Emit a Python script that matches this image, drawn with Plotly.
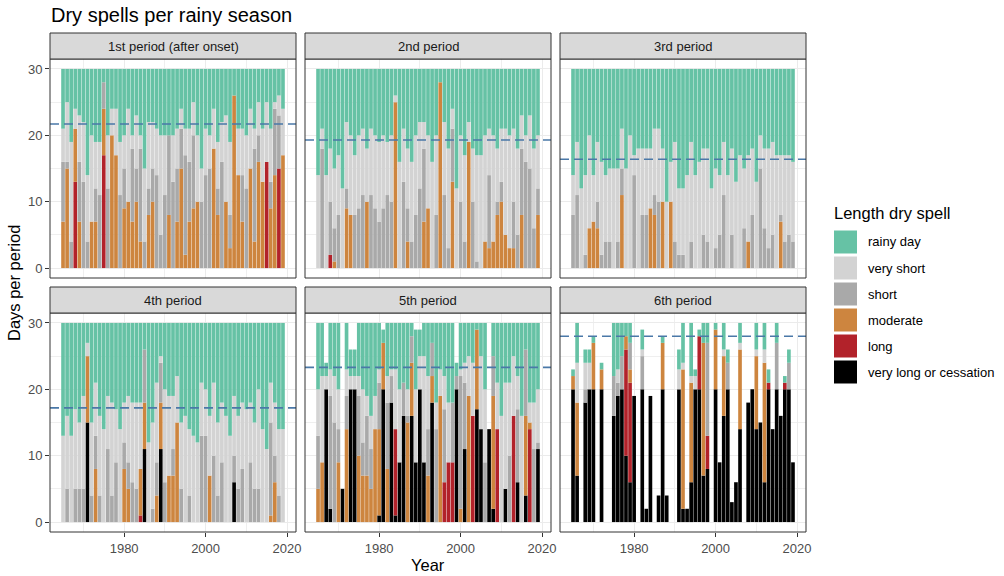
import plotly.graph_objects as go

# ---------------------------------------------------------------- data
years = list(range(1965, 2020))

period_titles = ["1st period (after onset)", "2nd period", "3rd period",
                 "4th period", "5th period", "6th period"]

legend_labels = ["rainy day", "very short", "short", "moderate", "long",
                 "very long or cessation"]

# mean number of dry days per period (dashed reference line)
period_means = [21.7, 19.3, 16.4, 17.2, 23.3, 28.0]

y_ticks = [0, 10, 20, 30]
x_ticks = [1980, 2000, 2020]

# ---- 1st period (after onset)
p1_long = [0, 0, 0, 13, 0, 0, 0, 0, 0, 0,
           17, 0, 0, 0, 0, 0, 0, 0, 0, 0,
           0, 0, 0, 0, 0, 0, 0, 0, 0, 0,
           0, 0, 0, 0, 0, 0, 0, 0, 0, 0,
           0, 0, 0, 0, 0, 0, 0, 0, 0, 0,
           16, 0, 0, 15, 0]
p1_moderate = [7, 15, 0, 8, 7, 0, 0, 7, 7, 0,
               7, 0, 20, 17, 0, 9, 10, 7, 10, 4,
               0, 8, 10, 0, 0, 0, 8, 0, 7, 15,
               2, 7, 9, 10, 0, 0, 0, 18, 8, 0,
               10, 3, 26, 14, 7, 0, 15, 4, 16, 13,
               0, 9, 14, 0, 17]
p1_short = [9, 1, 4, 0, 9, 13, 4, 0, 5, 11,
            4, 12, 0, 0, 11, 6, 0, 11, 5, 14,
            4, 4, 5, 14, 5, 11, 12, 13, 8, 6,
            15, 9, 11, 0, 10, 14, 15, 0, 4, 16,
            0, 5, 0, 0, 7, 12, 0, 14, 4, 0,
            0, 4, 10, 8, 0]
p1_very_short = [5, 9, 15, 3, 7, 9, 10, 13, 7, 8,
                 0, 8, 4, 7, 8, 5, 14, 2, 8, 2,
                 11, 10, 7, 7, 15, 9, 0, 7, 6, 3,
                 4, 5, 5, 10, 5, 7, 5, 6, 7, 6,
                 13, 11, 0, 7, 7, 8, 9, 3, 5, 8,
                 9, 8, 1, 3, 7]
p1_rainy = [9, 5, 11, 6, 7, 8, 16, 10, 11, 11,
            2, 10, 6, 6, 11, 10, 6, 10, 7, 10,
            15, 8, 8, 9, 10, 10, 10, 10, 9, 6,
            9, 9, 5, 10, 15, 9, 10, 6, 11, 8,
            7, 11, 4, 9, 9, 10, 6, 9, 5, 9,
            5, 9, 5, 4, 6]

# ---- 2nd period
p2_long = [0, 0, 0, 2, 0, 0, 0, 0, 0, 0,
           0, 0, 0, 0, 0, 0, 0, 0, 0, 0,
           0, 0, 0, 0, 0, 0, 0, 0, 0, 0,
           0, 0, 0, 0, 0, 0, 0, 0, 0, 0,
           0, 0, 0, 0, 0, 0, 0, 0, 0, 0,
           0, 0, 0, 0, 0]
p2_moderate = [0, 0, 0, 0, 1, 0, 0, 9, 8, 0,
               0, 0, 10, 0, 0, 0, 0, 0, 0, 25,
               0, 0, 4, 0, 0, 0, 7, 9, 0, 0,
               28, 0, 0, 13, 0, 0, 0, 19, 0, 0,
               0, 4, 3, 4, 8, 10, 5, 3, 3, 0,
               8, 0, 0, 0, 8]
p2_short = [0, 18, 0, 8, 5, 8, 0, 3, 0, 8,
            9, 11, 0, 11, 9, 7, 9, 11, 10, 0,
            0, 13, 5, 4, 8, 12, 11, 0, 0, 8,
            0, 11, 3, 8, 0, 10, 4, 0, 10, 1,
            0, 0, 11, 0, 2, 3, 0, 0, 7, 5,
            10, 16, 15, 6, 4]
p2_very_short = [14, 3, 14, 8, 9, 9, 12, 10, 12, 9,
                 11, 10, 8, 10, 11, 12, 11, 8, 10, 1,
                 16, 8, 9, 12, 12, 10, 4, 11, 16, 12,
                 0, 11, 15, 3, 12, 10, 13, 3, 8, 16,
                 17, 16, 7, 16, 8, 8, 16, 17, 11, 13,
                 5, 4, 8, 12, 8]
p2_rainy = [16, 9, 16, 12, 15, 13, 18, 8, 10, 13,
            10, 9, 12, 9, 10, 11, 10, 11, 10, 4,
            14, 9, 12, 14, 10, 8, 8, 10, 14, 10,
            2, 8, 12, 6, 18, 10, 13, 8, 12, 13,
            13, 10, 9, 10, 12, 9, 9, 10, 9, 12,
            7, 10, 7, 12, 10]

# ---- 3rd period
p3_moderate = [0, 0, 0, 0, 6, 7, 6, 0, 0, 0,
               0, 0, 11, 0, 0, 0, 0, 0, 0, 9,
               8, 0, 10, 0, 10, 0, 0, 0, 0, 0,
               0, 0, 0, 0, 0, 0, 0, 0, 0, 0,
               0, 0, 0, 4, 0, 0, 0, 0, 0, 0,
               0, 7, 0, 0, 0]
p3_short = [8, 11, 0, 2, 0, 0, 4, 2, 4, 4,
            0, 4, 4, 0, 0, 14, 0, 8, 8, 0,
            3, 10, 0, 0, 0, 4, 2, 2, 0, 4,
            0, 0, 5, 4, 0, 3, 5, 11, 0, 5,
            0, 0, 6, 0, 8, 0, 15, 6, 3, 5,
            0, 1, 4, 5, 4]
p3_very_short = [6, 8, 12, 12, 14, 7, 9, 14, 10, 11,
                 15, 11, 6, 15, 20, 3, 18, 10, 10, 9,
                 10, 11, 8, 10, 6, 15, 10, 10, 14, 15,
                 14, 16, 13, 14, 12, 12, 9, 8, 14, 13,
                 13, 17, 9, 13, 10, 13, 5, 12, 15, 14,
                 17, 9, 13, 12, 12]
p3_rainy = [16, 11, 18, 16, 10, 16, 11, 14, 16, 15,
            15, 15, 9, 15, 10, 13, 12, 12, 12, 12,
            9, 9, 12, 20, 14, 11, 18, 18, 16, 11,
            16, 14, 12, 12, 18, 15, 16, 11, 16, 12,
            17, 13, 15, 13, 12, 17, 10, 12, 12, 11,
            13, 13, 13, 13, 14]

# ---- 4th period
p4_very_long = [0, 0, 0, 0, 0, 0, 15, 0, 0, 0,
                0, 0, 0, 0, 0, 0, 0, 0, 0, 0,
                11, 0, 0, 0, 11, 0, 0, 0, 0, 0,
                0, 0, 0, 0, 0, 0, 0, 0, 0, 0,
                0, 0, 6, 0, 0, 0, 0, 0, 0, 0,
                0, 0, 0, 0, 0]
p4_long = [0, 0, 0, 0, 0, 0, 0, 0, 0, 0,
           0, 0, 0, 0, 0, 0, 0, 0, 0, 1,
           0, 0, 0, 0, 0, 0, 0, 0, 0, 0,
           0, 0, 0, 0, 0, 0, 0, 0, 0, 0,
           0, 0, 0, 0, 0, 0, 0, 0, 0, 0,
           0, 0, 0, 0, 0]
p4_moderate = [0, 0, 0, 0, 0, 0, 10, 0, 8, 0,
               0, 0, 0, 0, 0, 8, 5, 0, 0, 7,
               7, 0, 0, 4, 7, 0, 7, 7, 15, 0,
               0, 0, 0, 0, 0, 0, 7, 0, 0, 0,
               0, 0, 0, 0, 0, 0, 0, 0, 0, 0,
               0, 1, 6, 0, 0]
p4_short = [0, 5, 0, 5, 5, 5, 0, 4, 5, 4,
            0, 11, 4, 9, 0, 4, 4, 6, 5, 0,
            8, 0, 2, 5, 6, 6, 0, 4, 0, 5,
            0, 4, 0, 0, 13, 13, 0, 10, 4, 9,
            0, 0, 4, 5, 8, 0, 9, 5, 5, 0,
            0, 14, 4, 4, 0]
p4_very_short = [13, 11, 13, 12, 10, 14, 2, 11, 8, 12,
                 14, 8, 14, 8, 14, 6, 10, 12, 13, 10,
                 0, 12, 13, 12, 1, 14, 12, 8, 7, 10,
                 16, 10, 13, 12, 8, 7, 9, 11, 11, 9,
                 16, 13, 9, 11, 10, 17, 9, 10, 15, 14,
                 11, 6, 8, 10, 14]
p4_rainy = [17, 14, 17, 13, 15, 11, 3, 15, 9, 14,
            16, 11, 12, 13, 16, 12, 11, 12, 12, 12,
            4, 18, 15, 9, 5, 10, 11, 11, 8, 15,
            14, 16, 17, 18, 9, 10, 14, 9, 15, 12,
            14, 17, 11, 14, 12, 13, 12, 15, 10, 16,
            19, 9, 12, 16, 16]

# ---- 5th period
p5_very_long = [0, 0, 20, 2, 0, 0, 5, 0, 20, 20,
                0, 0, 0, 0, 0, 1, 20, 0, 18, 1,
                9, 16, 0, 16, 9, 20, 9, 0, 18, 0,
                0, 0, 0, 0, 20, 0, 11, 0, 0, 17,
                14, 0, 14, 2, 0, 0, 5, 0, 0, 6,
                0, 4, 0, 0, 11]
p5_long = [0, 0, 0, 0, 0, 0, 0, 0, 0, 0,
           0, 0, 0, 0, 0, 0, 0, 0, 0, 13,
           0, 0, 0, 0, 0, 0, 0, 0, 0, 0,
           0, 6, 9, 9, 0, 0, 0, 0, 16, 0,
           0, 0, 0, 0, 14, 0, 0, 0, 16, 0,
           0, 0, 14, 0, 0]
p5_moderate = [5, 9, 0, 0, 0, 9, 0, 14, 0, 0,
               10, 7, 7, 5, 14, 13, 7, 8, 0, 0,
               0, 0, 15, 8, 0, 0, 0, 7, 4, 0,
               19, 0, 0, 0, 0, 2, 0, 19, 0, 12,
               0, 0, 0, 17, 0, 0, 0, 0, 0, 0,
               0, 12, 1, 0, 0]
p5_short = [8, 0, 0, 17, 15, 5, 0, 5, 0, 0,
            9, 5, 9, 6, 0, 7, 0, 10, 4, 0,
            0, 5, 1, 4, 0, 0, 0, 7, 5, 14,
            0, 11, 0, 9, 2, 20, 10, 0, 0, 0,
            0, 9, 0, 6, 0, 0, 0, 10, 0, 11,
            0, 10, 0, 11, 1]
p5_very_short = [7, 13, 2, 4, 7, 6, 0, 4, 2, 2,
                 3, 8, 3, 5, 5, 2, 0, 4, 1, 9,
                 11, 0, 4, 0, 11, 5, 16, 8, 0, 4,
                 4, 5, 9, 0, 0, 1, 3, 6, 8, 0,
                 11, 11, 0, 0, 7, 16, 16, 11, 9, 5,
                 16, 0, 3, 7, 8]
p5_rainy = [10, 8, 2, 7, 8, 10, 0, 7, 4, 4,
            8, 10, 11, 14, 11, 7, 2, 8, 7, 7,
            10, 9, 10, 2, 9, 4, 5, 8, 3, 12,
            7, 8, 12, 12, 2, 7, 6, 5, 6, 1,
            5, 10, 0, 5, 9, 14, 9, 9, 5, 8,
            14, 4, 12, 12, 10]

# ---- 6th period
p6_very_long = [20, 7, 0, 18, 20, 20, 0, 20, 0, 0,
                16, 19, 20, 10, 6, 19, 0, 20, 2, 19,
                0, 4, 20, 4, 0, 0, 20, 2, 2, 6,
                20, 20, 7, 8, 0, 20, 9, 16, 20, 3,
                6, 14, 0, 18, 20, 14, 15, 6, 20, 14,
                20, 16, 20, 20, 9]
p6_long = [0, 0, 0, 0, 0, 0, 0, 0, 0, 0,
           0, 0, 0, 16, 15, 0, 0, 0, 0, 0,
           0, 0, 0, 0, 0, 0, 0, 0, 0, 0,
           0, 8, 0, 5, 0, 0, 0, 0, 0, 0,
           0, 0, 0, 0, 0, 0, 0, 0, 1, 0,
           0, 0, 1, 0, 0]
p6_moderate = [2, 11, 0, 0, 0, 7, 0, 3, 0, 0,
               0, 0, 0, 2, 2, 0, 0, 0, 0, 0,
               0, 0, 7, 0, 0, 0, 0, 21, 0, 15,
               0, 0, 20, 0, 0, 9, 0, 9, 0, 0,
               0, 12, 0, 0, 0, 11, 0, 18, 0, 0,
               0, 0, 0, 0, 0]
p6_short = [0, 0, 0, 2, 0, 0, 0, 0, 0, 0,
            6, 2, 5, 0, 4, 0, 0, 5, 0, 0,
            0, 0, 0, 0, 0, 0, 0, 0, 0, 0,
            0, 0, 0, 14, 0, 0, 0, 0, 4, 0,
            0, 0, 0, 0, 0, 0, 0, 0, 0, 0,
            7, 0, 0, 4, 0]
p6_very_short = [0, 6, 0, 4, 4, 0, 0, 0, 0, 0,
                 0, 2, 0, 0, 0, 0, 0, 1, 0, 0,
                 0, 0, 0, 0, 0, 0, 3, 1, 0, 1,
                 2, 0, 0, 0, 0, 0, 0, 1, 0, 0,
                 0, 1, 0, 0, 0, 1, 0, 2, 0, 0,
                 0, 0, 0, 0, 0]
p6_rainy = [1, 6, 0, 2, 2, 1, 0, 1, 0, 0,
            8, 7, 5, 2, 3, 0, 0, 3, 0, 0,
            0, 0, 1, 0, 0, 0, 3, 6, 0, 8,
            1, 1, 3, 3, 0, 1, 0, 4, 2, 0,
            0, 3, 0, 0, 0, 4, 0, 4, 2, 0,
            3, 0, 1, 2, 0]

# series per facet (only the classes that occur in that period)
facets = [
    {"long": p1_long, "moderate": p1_moderate, "short": p1_short,
     "very short": p1_very_short, "rainy day": p1_rainy},
    {"long": p2_long, "moderate": p2_moderate, "short": p2_short,
     "very short": p2_very_short, "rainy day": p2_rainy},
    {"moderate": p3_moderate, "short": p3_short,
     "very short": p3_very_short, "rainy day": p3_rainy},
    {"very long or cessation": p4_very_long, "long": p4_long,
     "moderate": p4_moderate, "short": p4_short,
     "very short": p4_very_short, "rainy day": p4_rainy},
    {"very long or cessation": p5_very_long, "long": p5_long,
     "moderate": p5_moderate, "short": p5_short,
     "very short": p5_very_short, "rainy day": p5_rainy},
    {"very long or cessation": p6_very_long, "long": p6_long,
     "moderate": p6_moderate, "short": p6_short,
     "very short": p6_very_short, "rainy day": p6_rainy},
]

# ---------------------------------------------------------------- style
colors = {
    "rainy day": "#66C2A5",
    "very short": "#D3D3D3",
    "short": "#A9A9A9",
    "moderate": "#CD853F",
    "long": "#B2222A",
    "very long or cessation": "#000000",
}
stack_order = list(reversed(legend_labels))  # bottom to top

FONT = "Liberation Sans, Arial, sans-serif"
W, H = 1004, 576
col_px = [(50, 296), (305, 551), (560, 806)]
row_px = [(59, 278), (313, 532)]
STRIP_H = 26


def fx(px):
    return px / W


def fy(py):
    return 1 - py / H


fig = go.Figure()

shapes = []
annotations = []

for i, data in enumerate(facets):
    n = i + 1
    r, c = divmod(i, 3)
    xa = "x" if n == 1 else f"x{n}"
    ya = "y" if n == 1 else f"y{n}"
    for cat in stack_order:
        if cat not in data:
            continue
        fig.add_trace(go.Bar(
            x=years, y=data[cat], name=cat, width=0.9,
            marker=dict(color=colors[cat], line=dict(width=0)),
            xaxis=xa, yaxis=ya, showlegend=False,
            hovertemplate="%{x}: %{y} days<extra>" + cat + "</extra>",
        ))

    x0, x1 = col_px[c]
    y0, y1 = row_px[r]
    bottom = r == 1
    left = c == 0
    fig.update_layout(**{
        ("xaxis" if n == 1 else f"xaxis{n}"): dict(
            domain=[fx(x0), fx(x1)], anchor=ya, range=[1961.8, 2022.2],
            tickmode="array", tickvals=x_ticks,
            showticklabels=bottom, ticks="outside" if bottom else "",
            ticklen=4, tickwidth=1, tickcolor="#333333",
            tickfont=dict(family=FONT, size=13, color="#4D4D4D"),
            showgrid=True, gridcolor="#EBEBEB", gridwidth=1.1,
            minor=dict(tickvals=[1970, 1990, 2010], showgrid=True,
                       gridcolor="#EFEFEF", gridwidth=0.6),
            zeroline=False, showline=False, automargin=False, fixedrange=True,
        ),
        ("yaxis" if n == 1 else f"yaxis{n}"): dict(
            domain=[fy(y1), fy(y0)], anchor=xa, range=[-1.5, 31.5],
            tickmode="array", tickvals=y_ticks,
            showticklabels=left, ticks="outside" if left else "",
            ticklen=4, tickwidth=1, tickcolor="#333333",
            tickfont=dict(family=FONT, size=13, color="#4D4D4D"),
            showgrid=True, gridcolor="#EBEBEB", gridwidth=1.1,
            minor=dict(tickvals=[5, 15, 25], showgrid=True,
                       gridcolor="#EFEFEF", gridwidth=0.6),
            zeroline=False, showline=False, automargin=False, fixedrange=True,
        ),
    })

    # mean dry days line
    shapes.append(dict(type="line", xref=f"{xa} domain", yref=ya,
                       x0=0, x1=1, y0=period_means[i], y1=period_means[i],
                       line=dict(color="#4A78A8", width=1.6, dash="9px,5px"),
                       layer="above"))
    # panel border
    shapes.append(dict(type="rect", xref="paper", yref="paper",
                       x0=fx(x0), x1=fx(x1), y0=fy(y1), y1=fy(y0),
                       line=dict(color="#333333", width=1), layer="above"))
    # facet strip
    shapes.append(dict(type="rect", xref="paper", yref="paper",
                       x0=fx(x0), x1=fx(x1), y0=fy(y0), y1=fy(y0 - STRIP_H),
                       fillcolor="#D9D9D9",
                       line=dict(color="#333333", width=1), layer="above"))
    annotations.append(dict(text=period_titles[i], xref="paper", yref="paper",
                            x=fx((x0 + x1) / 2), y=fy(y0 - STRIP_H / 2),
                            xanchor="center", yanchor="middle", showarrow=False,
                            font=dict(family=FONT, size=13, color="#1A1A1A")))

# titles
annotations.append(dict(text="Dry spells per rainy season", xref="paper",
                        yref="paper", x=fx(49), y=fy(15), xanchor="left",
                        yanchor="middle", showarrow=False,
                        font=dict(family=FONT, size=20, color="#000000")))
annotations.append(dict(text="Year", xref="paper", yref="paper",
                        x=fx(428), y=fy(565), xanchor="center",
                        yanchor="middle", showarrow=False,
                        font=dict(family=FONT, size=16.5, color="#000000")))
annotations.append(dict(text="Days per period", xref="paper", yref="paper",
                        x=fx(14), y=fy(283), xanchor="center",
                        yanchor="middle", showarrow=False, textangle=-90,
                        font=dict(family=FONT, size=16.5, color="#000000")))

# legend
annotations.append(dict(text="Length dry spell", xref="paper", yref="paper",
                        x=fx(832), y=fy(213), xanchor="left",
                        yanchor="middle", showarrow=False,
                        font=dict(family=FONT, size=16.5, color="#000000")))
for j, lab in enumerate(legend_labels):
    cy = 242 + 26 * j
    shapes.append(dict(type="rect", xref="paper", yref="paper",
                       x0=fx(834), x1=fx(857), y0=fy(cy + 11.5),
                       y1=fy(cy - 11.5), fillcolor=colors[lab],
                       line=dict(width=0)))
    annotations.append(dict(text=lab, xref="paper", yref="paper",
                            x=fx(866), y=fy(cy), xanchor="left",
                            yanchor="middle", showarrow=False,
                            font=dict(family=FONT, size=13, color="#000000")))

fig.update_layout(
    width=W, height=H, barmode="stack", bargap=0.1,
    margin=dict(l=0, r=0, t=0, b=0),
    paper_bgcolor="white", plot_bgcolor="white",
    shapes=shapes, annotations=annotations, showlegend=False,
    font=dict(family=FONT),
)

# render the narrow bars with anti-aliased edges instead of pixel-snapped ones
soften_bars = """
var gd = document.getElementById('{plot_id}');
function softenBars() {
    gd.querySelectorAll('.bars path').forEach(function (p) {
        p.style.shapeRendering = 'geometricPrecision';
    });
}
softenBars();
gd.on('plotly_afterplot', softenBars);
"""

fig.write_html("out.html", post_script=soften_bars)
